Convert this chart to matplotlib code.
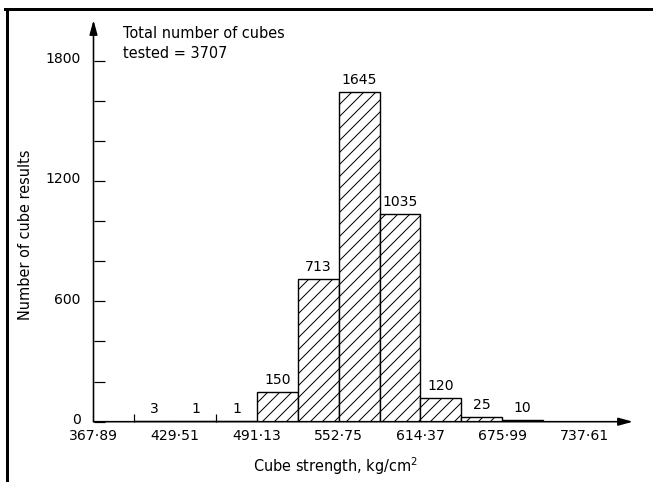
import matplotlib
matplotlib.use("Agg")
import matplotlib.pyplot as plt
import matplotlib.transforms as mtransforms
from matplotlib.lines import Line2D

# histogram of cube strengths (kg/cm2)
BIN_W = 30.81
bin_left = [398.70, 429.51, 460.32, 491.13, 521.94, 552.75, 583.56, 614.37, 645.18, 675.99]
counts = [3, 1, 1, 150, 713, 1645, 1035, 120, 25, 10]
tick_vals = [367.89, 429.51, 491.13, 552.75, 614.37, 675.99, 737.61]
tick_labels = [f"{v:.2f}".replace(".", "\u00b7") for v in tick_vals]
small_ticks = [398.70, 429.51, 460.32, 737.61]
y_major = [0, 600, 1200, 1800]
y_minor = [200, 400, 800, 1000, 1400, 1600]

W, H, DPI = 653, 482, 72
plt.rcParams['font.family'] = ['DejaVu Sans']
plt.rcParams['hatch.linewidth'] = 1.0

fig = plt.figure(figsize=(W / DPI, H / DPI), dpi=DPI)
fig.patch.set_facecolor('white')
ax = fig.add_axes([93.5 / W, (H - 421.7) / H, 546.7 / W, 403.2 / H])
X0, X1 = 367.89, 780
ax.set_xlim(X0, X1)
ax.set_ylim(0, 2010)

ax.bar(bin_left, counts, width=BIN_W, align='edge', facecolor='white',
       edgecolor='black', linewidth=1.4, hatch='//', zorder=2)
for l, c in zip(bin_left, counts):
    ax.annotate(str(c), (l + BIN_W / 2, c), xytext=(0, 5), textcoords='offset points',
                ha='center', va='bottom', fontsize=14)

for s in ax.spines.values():
    s.set_visible(False)

# axes drawn as arrows
arrow = dict(arrowstyle='-|>,head_length=0.8,head_width=0.22', color='black',
             lw=1.6, shrinkA=0, shrinkB=0, mutation_scale=15)
ax.annotate('', xy=(X0, 2002), xytext=(X0, 0), arrowprops=arrow, annotation_clip=False)
ax.annotate('', xy=(774.5, 0), xytext=(X0, 0), arrowprops=arrow, annotation_clip=False)

ax.set_xticks(tick_vals)
ax.set_xticklabels(tick_labels)
ax.set_xticks(small_ticks, minor=True)
ax.tick_params(axis='x', which='major', length=0, pad=7, labelsize=14)
ax.tick_params(axis='x', which='minor', direction='in', length=8, width=1.2)

ax.set_yticks(y_major)
ax.set_yticks(y_minor, minor=True)
ax.tick_params(axis='y', which='both', direction='in', length=11, width=1.2)
ax.tick_params(axis='y', which='major', pad=13, labelsize=14)
# y labels sit a little above their ticks in the original
shift = mtransforms.ScaledTranslation(0, 3 / DPI, fig.dpi_scale_trans)
for lab in ax.get_yticklabels():
    lab.set_transform(lab.get_transform() + shift)

ax.set_xlabel('Cube strength, kg/cm$^2$', fontsize=14.5, va='center')
ax.xaxis.set_label_coords(335 / W, 1 - 466 / H, transform=fig.transFigure)
ax.set_ylabel('Number of cube results', fontsize=14.5, va='center')
ax.yaxis.set_label_coords(26 / W, 1 - 235 / H, transform=fig.transFigure)

fig.text(123 / W, 1 - 26 / H, 'Total number of cubes\ntested = 3707', ha='left', va='top',
         fontsize=14.5, linespacing=1.4)

# scanned page frame
fig.add_artist(Line2D([6.5 / W, 6.5 / W], [0, 1 - 8.5 / H], transform=fig.transFigure,
                      color='black', lw=3))
fig.add_artist(Line2D([5 / W, 1], [1 - 8.5 / H, 1 - 8.5 / H], transform=fig.transFigure,
                      color='black', lw=3))

fig.savefig('out.png', dpi=DPI)
